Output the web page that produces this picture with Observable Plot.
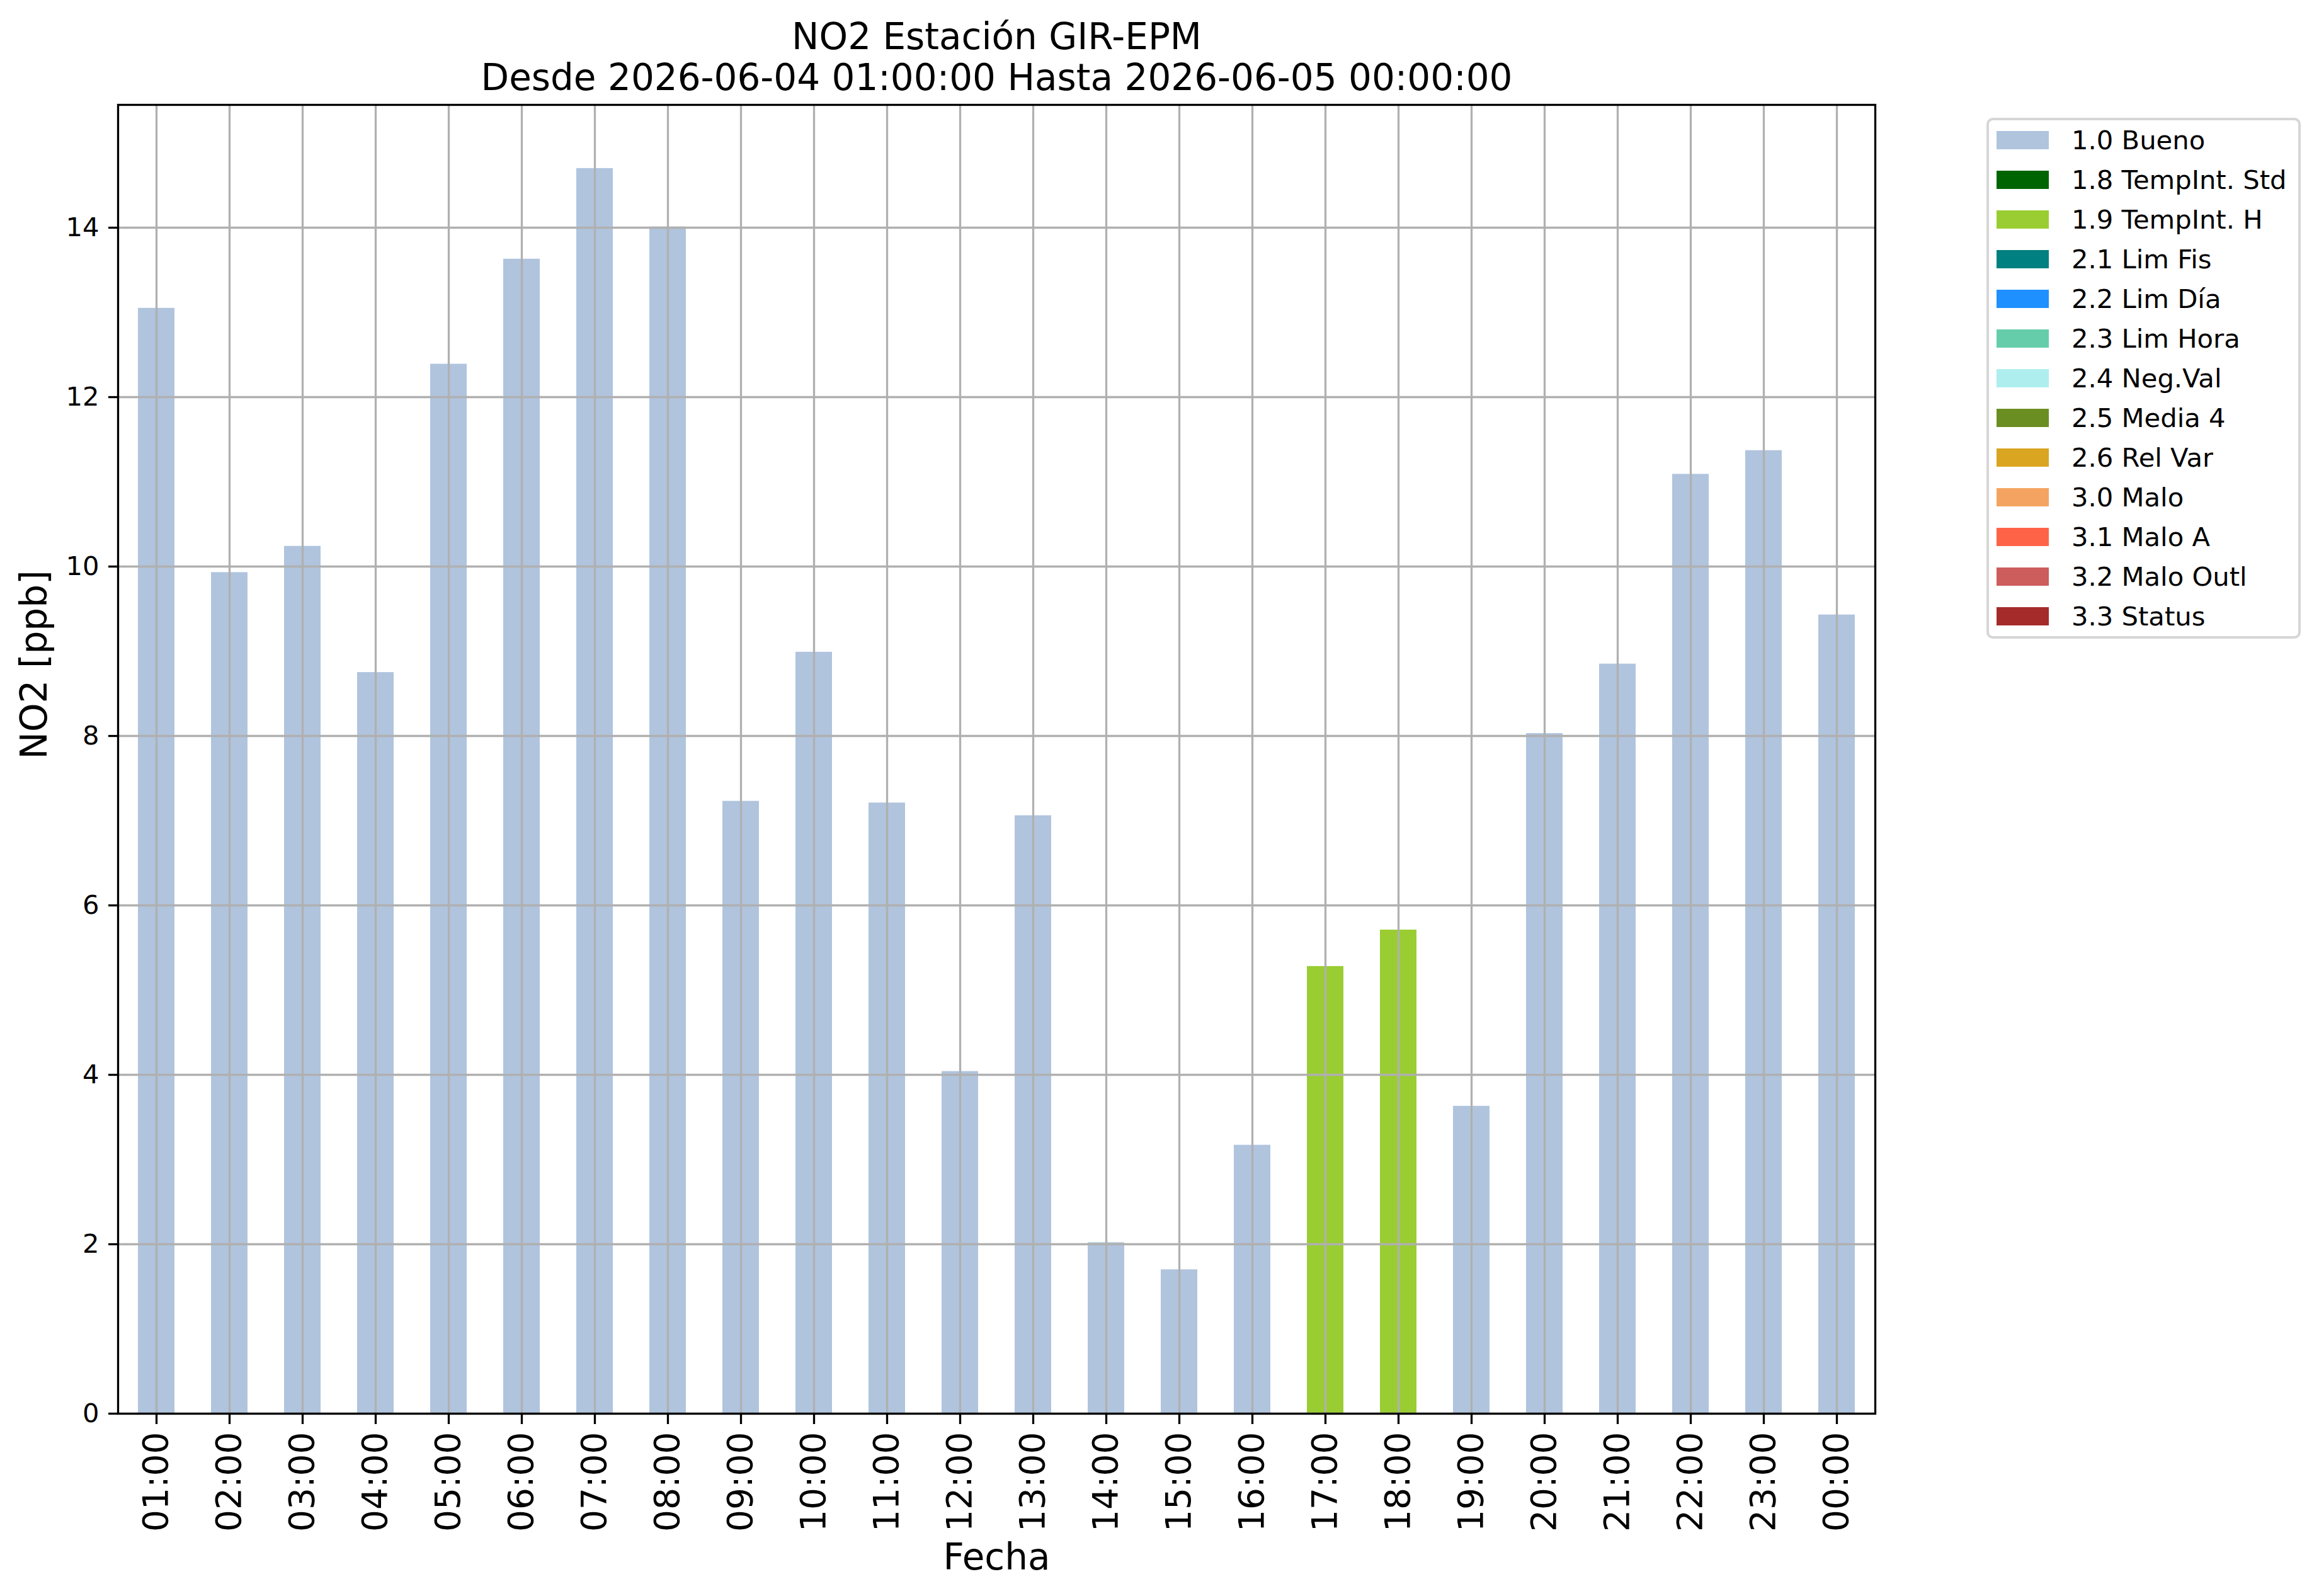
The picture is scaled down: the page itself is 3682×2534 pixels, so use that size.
<!DOCTYPE html>
<html>
<head>
<meta charset="utf-8">
<script src="https://cdn.jsdelivr.net/npm/d3@7"></script>
<script src="https://cdn.jsdelivr.net/npm/@observablehq/plot@0.6"></script>
<style>
  html, body { margin: 0; padding: 0; background: white; }
  #wrap { position: relative; width: 3682px; height: 2534px; background: white; overflow: hidden; }
  #chart { position: absolute; left: 0; top: 0; }
  #legend {
    position: absolute; left: 3154px; top: 187px; width: 499px; height: 827px;
    box-sizing: border-box; border: 4px solid #d6d6d6; border-radius: 10px;
    padding: 0 0 0 12px; background: white;
  }
  #legend .lg-swatches { font-family: "DejaVu Sans", sans-serif !important; font-size: 41.7px !important; margin: 0 !important; color: black; }
  #legend .lg-swatch { height: 63px !important; padding: 0 !important; margin: 0 !important; display: flex !important; align-items: center !important; }
  #legend .lg-swatch > svg { margin-right: 36px !important; flex-shrink: 0; }
</style>
</head>
<body>
<div id="wrap">
  <div id="chart"></div>
  <div id="legend"></div>
</div>
<script>
// ---- data ----
const hours = ["01:00","02:00","03:00","04:00","05:00","06:00","07:00","08:00","09:00","10:00","11:00","12:00",
               "13:00","14:00","15:00","16:00","17:00","18:00","19:00","20:00","21:00","22:00","23:00","00:00"];
const values = [13.05, 9.93, 10.24, 8.75, 12.39, 13.63, 14.70, 14.01, 7.23, 8.99, 7.21, 4.04,
                7.06, 2.02, 1.70, 3.17, 5.28, 5.71, 3.63, 8.03, 8.85, 11.09, 11.37, 9.43];
const flags = ["1.0 Bueno","1.0 Bueno","1.0 Bueno","1.0 Bueno","1.0 Bueno","1.0 Bueno","1.0 Bueno","1.0 Bueno",
               "1.0 Bueno","1.0 Bueno","1.0 Bueno","1.0 Bueno","1.0 Bueno","1.0 Bueno","1.0 Bueno","1.0 Bueno",
               "1.9 TempInt. H","1.9 TempInt. H","1.0 Bueno","1.0 Bueno","1.0 Bueno","1.0 Bueno","1.0 Bueno","1.0 Bueno"];
const legendLabels = ["1.0 Bueno","1.8 TempInt. Std","1.9 TempInt. H","2.1 Lim Fis","2.2 Lim Día","2.3 Lim Hora",
                      "2.4 Neg.Val","2.5 Media 4","2.6 Rel Var","3.0 Malo","3.1 Malo A","3.2 Malo Outl","3.3 Status"];
const legendColors = ["#b0c4de","#006400","#9acd32","#008080","#1e90ff","#66cdaa",
                      "#afeeee","#6b8e23","#daa520","#f4a460","#ff6347","#cd5c5c","#a52a2a"];
const yTicks = [0, 2, 4, 6, 8, 10, 12, 14];
const yMax = 15.45;
const titleLine1 = "NO2 Estación GIR-EPM";
const titleLine2 = "Desde 2026-06-04 01:00:00 Hasta 2026-06-05 00:00:00";
const xLabel = "Fecha";
const yLabel = "NO2 [ppb]";

const data = hours.map((h, i) => ({hour: h, value: values[i], flag: flags[i]}));

const grid = "#b0b0b0";
const lw = 3.3;

const chart = Plot.plot({
  width: 3682,
  height: 2534,
  marginLeft: 187,
  marginRight: 705,
  marginTop: 166,
  marginBottom: 290,
  style: {fontFamily: "DejaVu Sans", background: "white", overflow: "visible", color: "black"},
  x: {domain: hours, paddingInner: 0.5, paddingOuter: 0.25, label: null},
  y: {domain: [0, yMax], label: null},
  color: {type: "ordinal", domain: legendLabels, range: legendColors},
  marks: [
    Plot.barY(data, {x: "hour", y: "value", fill: "flag"}),
    Plot.gridY({ticks: yTicks, stroke: grid, strokeOpacity: 1, strokeWidth: lw}),
    Plot.gridX({stroke: grid, strokeOpacity: 1, strokeWidth: lw}),
    Plot.frame({stroke: "black", strokeWidth: lw}),
    Plot.axisY({ticks: yTicks, tickSize: 15, tickPadding: 15, fontSize: 41.7, strokeWidth: lw, label: null}),
    Plot.axisX({tickRotate: -90, tickSize: 17, tickPadding: 12, fontSize: 55, strokeWidth: lw, label: null}),
    Plot.text([titleLine1], {text: d => d, frameAnchor: "top", lineAnchor: "middle", dy: -106.6, fontSize: 58, fill: "black"}),
    Plot.text([titleLine2], {text: d => d, frameAnchor: "top", lineAnchor: "middle", dy: -41.6, fontSize: 58, fill: "black"}),
    Plot.text([xLabel], {text: d => d, frameAnchor: "bottom", lineAnchor: "middle", dy: 229.4, fontSize: 58, fill: "black"}),
    Plot.text([yLabel], {text: d => d, frameAnchor: "left", lineAnchor: "middle", rotate: -90, dx: -131.6, fontSize: 58, fill: "black"})
  ]
});
document.getElementById("chart").appendChild(chart);

const legend = Plot.legend({
  color: {type: "ordinal", domain: legendLabels, range: legendColors},
  legend: "swatches",
  columns: 1,
  swatchWidth: 83,
  swatchHeight: 29,
  className: "lg",
  style: {fontFamily: "DejaVu Sans", fontSize: "41.7px", color: "black"}
});
document.getElementById("legend").appendChild(legend);
</script>
</body>
</html>
